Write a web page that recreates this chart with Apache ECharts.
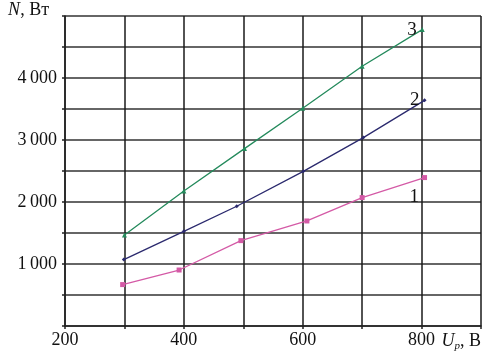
<!DOCTYPE html>
<html><head><meta charset="utf-8">
<script src="https://cdn.jsdelivr.net/npm/echarts@6/dist/echarts.min.js"></script>
<style>html,body{margin:0;padding:0;background:#fff}#c{width:490px;height:355px}</style>
</head><body><div id="c"></div>
<script>
const series1 = [[297, 668], [392, 903], [496, 1377], [607, 1694], [700, 2071], [805, 2394]];
const series2 = [[299, 1071], [400, 1527], [489, 1931], [601, 2495], [702, 3039], [805, 3640]];
const series3 = [[300, 1468], [400, 2177], [502, 2861], [600, 3511], [700, 4189], [801, 4781]];
const seriesNames = ['1', '2', '3'];
const xLabels = [200, 400, 600, 800];
const yLabels = [1000, 2000, 3000, 4000];

const FONT = 'Liberation Serif';
const chart = echarts.init(document.getElementById('c'));
function fmtNum(v) { return String(v).replace(/(\d)(\d{3})$/, '$1\u2009$2'); }
function mk(data, name, color, symbol, size, labelOffset) {
  return {
    type: 'line', name: name, data: data.map((d, i) => i === data.length - 1 ? {
      value: d, label: { show: true, formatter: name, position: 'left', distance: 3, offset: labelOffset,
        fontFamily: FONT, fontSize: 19, color: '#111' } } : d),
    lineStyle: { color: color, width: 1.3 }, itemStyle: { color: color },
    symbol: symbol, symbolSize: size, showSymbol: true, animation: false, z: 5
  };
}
chart.setOption({
  animation: false,
  grid: { left: 65, right: 9, top: 16, bottom: 29, containLabel: false, outerBoundsMode: 'none' },
  xAxis: {
    type: 'value', min: 200, max: 900, interval: 100,
    axisLine: { show: true, lineStyle: { color: '#222', width: 1.5 } },
    axisTick: { show: true, length: 3, lineStyle: { color: '#222', width: 1.5 } },
    splitLine: { show: true, lineStyle: { color: '#1a1a1a', width: 1.5 } },
    axisLabel: { fontFamily: FONT, fontSize: 18, color: '#111', margin: 5,
      formatter: v => xLabels.includes(v) ? String(v) : '' },
    name: '{i|U}{s|p}{t|, В}', nameLocation: 'end', nameGap: 0,
    nameTextStyle: { align: 'right', verticalAlign: 'top', padding: [5, 0, 0, 0],
      rich: { i: { fontFamily: FONT, fontSize: 18, fontStyle: 'italic', color: '#111' },
              s: { fontFamily: FONT, fontSize: 11, fontStyle: 'italic', color: '#111', padding: [10, 0, 0, 0] },
              t: { fontFamily: FONT, fontSize: 18, color: '#111' } } }
  },
  yAxis: {
    type: 'value', min: 0, max: 5000, interval: 500,
    axisLine: { show: true, lineStyle: { color: '#222', width: 1.5 } },
    axisTick: { show: true, length: 3, lineStyle: { color: '#222', width: 1.5 } },
    splitLine: { show: true, lineStyle: { color: '#333', width: 1.5 } },
    axisLabel: { fontFamily: FONT, fontSize: 18, color: '#111', margin: 8,
      formatter: v => yLabels.includes(v) ? fmtNum(v) : '' },
    name: '{i|N}{t|, Вт}', nameLocation: 'end', nameGap: -3,
    nameTextStyle: { align: 'right', padding: [0, 16, 0, 0],
      rich: { i: { fontFamily: FONT, fontSize: 18, fontStyle: 'italic', color: '#111' },
              t: { fontFamily: FONT, fontSize: 18, color: '#111' } } }
  },
  series: [
    mk(series1, seriesNames[0], '#d45aa6', 'rect', 5, [0, 19]),
    mk(series2, seriesNames[1], '#2b2a6e', 'diamond', 4, [0, 0]),
    mk(series3, seriesNames[2], '#248a5c', 'triangle', 5, [0, 0])
  ]
});
</script></body></html>
